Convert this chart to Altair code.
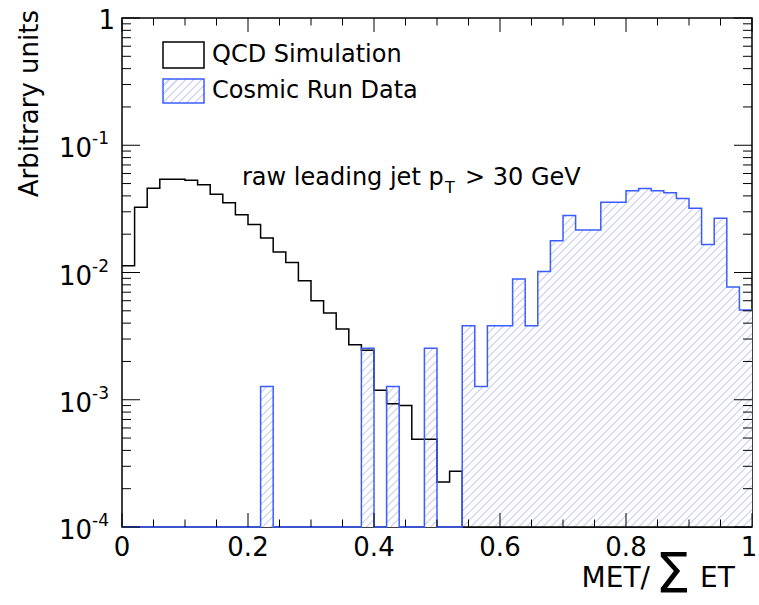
import altair as alt
import numpy as np
import pandas as pd

# 50 equal bins on [0, 1]
bin_edges = np.round(np.linspace(0.0, 1.0, 51), 2)

# Normalised bin contents (0 = empty bin)
qcd_sim = [
    0.0113, 0.0326, 0.0459, 0.0540, 0.0540, 0.0531, 0.0489, 0.0412, 0.0353, 0.0284,
    0.0238, 0.0187, 0.0145, 0.0120, 0.0086, 0.0060, 0.0048, 0.0036, 0.00271, 0.00245,
    0.00119, 0.00093, 0.00090, 0.00049, 0.00049, 0.000226, 0.000274, 0, 0, 0,
    0, 0, 0, 0, 0, 0, 0, 0, 0, 0,
    0, 0, 0, 0, 0, 0, 0, 0, 0, 0,
]
cosmic_data = [
    0, 0, 0, 0, 0, 0, 0, 0, 0, 0,
    0, 0.00127, 0, 0, 0, 0, 0, 0, 0, 0.00254,
    0, 0.00127, 0, 0, 0.00254, 0, 0, 0.00381, 0.00127, 0.00381,
    0.00381, 0.0089, 0.00381, 0.0102, 0.0178, 0.0280, 0.0216, 0.0216, 0.0356, 0.0356,
    0.0438, 0.0458, 0.0438, 0.0423, 0.0381, 0.0320, 0.0166, 0.0267, 0.0077, 0.00508,
]

x_tick_labels = [0, 0.2, 0.4, 0.6, 0.8, 1]
x_tick_text = ["0", "0.2", "0.4", "0.6", "0.8", "1"]
decades = [1e-4, 1e-3, 1e-2, 1e-1]
decade_exponents = ["-4", "-3", "-2", "-1"]

series_names = ["QCD Simulation", "Cosmic Run Data"]
annotation = ["raw leading jet p", "T", "> 30 GeV"]

Y_MIN = 1e-4  # empty bins sit on the bottom of the frame
W, H = 630, 509
FONT = "DejaVu Sans"
BLUE = "#3b5cff"
HATCH_LINE = "#d6daf8"

rows = []
for i, edge in enumerate(bin_edges):
    j = min(i, len(qcd_sim) - 1)
    rows.append({
        "x": float(edge),
        "qcd": max(qcd_sim[j], Y_MIN),
        "cosmic": max(cosmic_data[j], Y_MIN),
    })
hist = pd.DataFrame(rows)


def hatch(box_w, box_h, spacing=8.0, line_frac=0.28):
    """Diagonal '/' hatching as a striped linear gradient spanning a box."""
    r = box_h / box_w
    k = (1 + r) / (1 + r * r)  # gradient end lands on the far corner
    n = max(1, int(round((box_w + box_h) / spacing)))
    stops = []
    for i in range(n):
        a = i / n
        b = (i + 1 - line_frac) / n
        c = (i + 1) / n
        stops += [
            alt.GradientStop(offset=a, color="white"),
            alt.GradientStop(offset=b, color="white"),
            alt.GradientStop(offset=b, color=HATCH_LINE),
            alt.GradientStop(offset=c, color=HATCH_LINE),
        ]
    return alt.LinearGradient(gradient="linear", x1=0, y1=0, x2=k, y2=k * r, stops=stops)


# bounding box of the filled cosmic histogram, in pixels
area_top = H * (-np.log10(max(cosmic_data))) / 4.0
area_fill = hatch(W, H - area_top)

xs = alt.Scale(domain=[0, 1], nice=False, zero=False)
ys = alt.Scale(type="log", domain=[Y_MIN, 1], nice=False, clamp=True)

base = alt.Chart(hist)

cosmic_fill = base.mark_area(interpolate="step-after", color=area_fill).encode(
    x=alt.X("x:Q", scale=xs, axis=None),
    y=alt.Y("cosmic:Q", scale=ys, axis=None),
    y2=alt.datum(Y_MIN),
)
qcd_line = base.mark_line(interpolate="step-after", color="black", strokeWidth=1.5).encode(
    x=alt.X("x:Q", scale=xs, axis=None),
    y=alt.Y("qcd:Q", scale=ys, axis=None),
)
cosmic_line = base.mark_line(interpolate="step-after", color=BLUE, strokeWidth=1.5).encode(
    x=alt.X("x:Q", scale=xs, axis=None),
    y=alt.Y("cosmic:Q", scale=ys, axis=None),
)

# Inward tick marks on all four sides of the frame
x_major = pd.DataFrame({"v": x_tick_labels})
x_minor = pd.DataFrame({"v": [round(0.05 * k, 2) for k in range(21) if k % 4 != 0]})
y_major = pd.DataFrame({"v": decades + [1.0]})
y_minor = pd.DataFrame({"v": [m * d for d in decades for m in range(2, 10)]})


def xticks(df, length):
    enc_x = alt.X("v:Q", scale=xs, axis=None)
    bottom = alt.Chart(df).mark_rule(color="black", strokeWidth=1).encode(
        x=enc_x, y=alt.value(H), y2=alt.value(H - length))
    top = alt.Chart(df).mark_rule(color="black", strokeWidth=1).encode(
        x=enc_x, y=alt.value(0), y2=alt.value(length))
    return [bottom, top]


def yticks(df, length):
    enc_y = alt.Y("v:Q", scale=ys, axis=None)
    left = alt.Chart(df).mark_rule(color="black", strokeWidth=1).encode(
        y=enc_y, x=alt.value(0), x2=alt.value(length))
    right = alt.Chart(df).mark_rule(color="black", strokeWidth=1).encode(
        y=enc_y, x=alt.value(W), x2=alt.value(W - length))
    return [left, right]


ticks = xticks(x_major, 14) + xticks(x_minor, 7.5) + yticks(y_major, 18) + yticks(y_minor, 9)

# x tick labels; the last one is nudged inside the canvas
xlab = pd.DataFrame({"v": x_tick_labels, "t": x_tick_text})
xlab_inner = alt.Chart(xlab.iloc[:-1]).mark_text(
    font=FONT, fontSize=26, align="center", baseline="top", color="black"
).encode(x=alt.X("v:Q", scale=xs, axis=None), y=alt.value(H + 8), text="t:N")
xlab_last = alt.Chart(xlab.iloc[-1:]).mark_text(
    font=FONT, fontSize=26, align="center", baseline="top", dx=-3, color="black"
).encode(x=alt.X("v:Q", scale=xs, axis=None), y=alt.value(H + 8), text="t:N")

# Log-axis labels written as 10 with a raised exponent
ylab = pd.DataFrame({"v": decades, "base": ["10"] * len(decades), "exp": decade_exponents})
ylab_base = alt.Chart(ylab).mark_text(
    font=FONT, fontSize=26, align="right", baseline="middle", dy=4, color="black"
).encode(y=alt.Y("v:Q", scale=ys, axis=None), x=alt.value(-30), text="base:N")
ylab_exp = alt.Chart(ylab).mark_text(
    font=FONT, fontSize=17, align="left", baseline="middle", dy=-6, color="black"
).encode(y=alt.Y("v:Q", scale=ys, axis=None), x=alt.value(-30), text="exp:N")
ylab_one = alt.Chart(pd.DataFrame({"v": [1.0], "t": ["1"]})).mark_text(
    font=FONT, fontSize=26, align="right", baseline="middle", dy=3, color="black"
).encode(y=alt.Y("v:Q", scale=ys, axis=None), x=alt.value(-7), text="t:N")

one = pd.DataFrame({"k": [0]})


def label(text, x, y, size, **kw):
    return alt.Chart(one).mark_text(
        text=text, font=FONT, fontSize=size, color="black", **kw
    ).encode(x=alt.value(x), y=alt.value(y))


y_title = label("Arbitrary units", -92, -8, 26, angle=270, align="right", baseline="middle")
x_title = [
    label("MET/", 528, 569, 28, align="right", baseline="alphabetic"),
    label("\u03a3", 551, 574, 56, align="center", baseline="alphabetic"),
    label("ET", 578, 569, 28, align="left", baseline="alphabetic"),
]

# Legend boxes and entries
legend_qcd = alt.Chart(one).mark_rect(fill="white", stroke="black", strokeWidth=1.5).encode(
    x=alt.value(41), x2=alt.value(82), y=alt.value(24), y2=alt.value(50))
legend_cosmic = alt.Chart(one).mark_rect(
    fill=hatch(41, 24), stroke=BLUE, strokeWidth=1.5
).encode(x=alt.value(41), x2=alt.value(82), y=alt.value(61), y2=alt.value(85))
legend_text = [
    label(series_names[0], 90, 37, 24, align="left", baseline="middle"),
    label(series_names[1], 90, 73, 24, align="left", baseline="middle"),
]

note = [
    label(annotation[0], 120, 167, 24, align="left", baseline="alphabetic"),
    label(annotation[1], 323, 175, 16, align="left", baseline="alphabetic"),
    label(annotation[2], 343, 167, 24, align="left", baseline="alphabetic"),
]

chart = alt.layer(
    cosmic_fill, qcd_line, cosmic_line, *ticks, xlab_inner, xlab_last,
    ylab_base, ylab_exp, ylab_one, y_title, *x_title,
    legend_qcd, legend_cosmic, *legend_text, *note,
).properties(
    width=W, height=H,
    padding={"left": 122, "top": 18, "right": 7, "bottom": 78},
    autosize=alt.AutoSizeParams(type="none"),
    background="white",
).configure_view(stroke="black", strokeWidth=1.5)

chart.save("out.html", embed_options={"renderer": "svg", "actions": False})
